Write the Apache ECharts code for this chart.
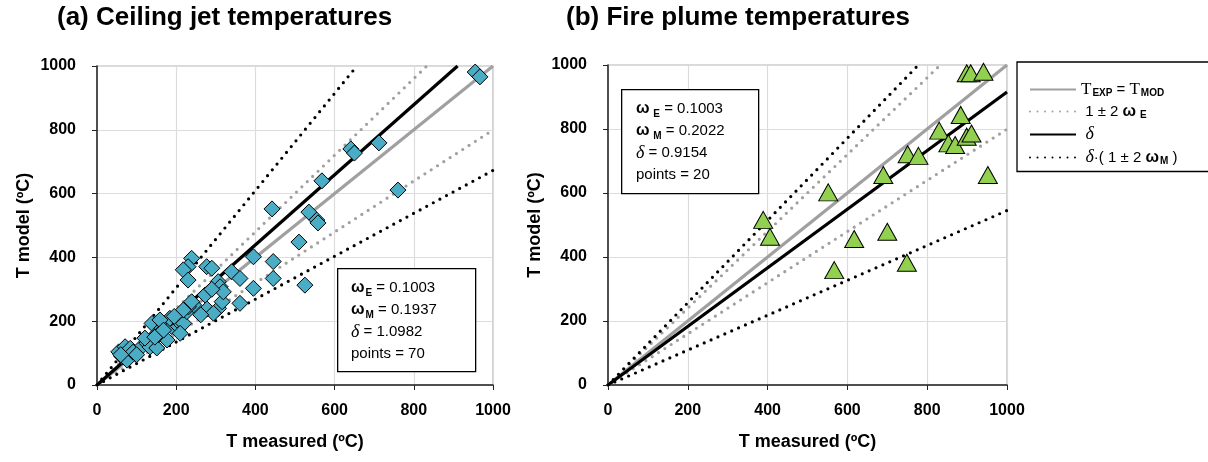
<!DOCTYPE html>
<html>
<head>
<meta charset="utf-8">
<script src="https://cdn.jsdelivr.net/npm/echarts@6/dist/echarts.min.js"></script>
<style>
  html, body { margin: 0; background: #fff; }
  #chart { width: 1208px; height: 462px; }
</style>
</head>
<body>
<div id="chart"></div>
<script>
// (a) ceiling jet: measured vs model
const ceilMeasured = [55, 71, 63, 76, 84, 109, 126, 139, 152, 164, 181, 177, 189, 206, 202, 219, 227, 210, 244, 273, 278, 307, 316,
  239, 230, 218, 230, 277, 290, 306, 311, 319, 340, 361, 395, 445, 445, 395, 361, 294, 231, 239, 218, 184, 159,
  955, 967, 712, 641, 650, 568, 760, 442, 535, 555, 558, 510, 525,
  134, 151, 91, 121, 154, 100, 146, 168, 195, 262, 290, 60];
const ceilModel = [104, 120, 89, 78, 115, 115, 131, 193, 162, 178, 198, 141, 183, 183, 204, 193, 230, 162, 251, 282, 238, 240, 261,
  397, 371, 361, 329, 371, 366, 324, 308, 292, 355, 334, 402, 387, 334, 303, 256, 225, 245, 261, 235, 209, 204,
  981, 966, 759, 740, 727, 640, 611, 552, 542, 517, 508, 448, 313,
  119, 116, 103, 147, 157, 95, 150, 172, 215, 220, 300, 95];

// (b) fire plume
const plumeMeasured = [899, 909, 941, 884, 830, 853, 870, 899, 911, 751, 778, 952, 690, 552, 389, 406, 617, 700, 567, 749];
const plumeModel = [974, 974, 979, 844, 795, 755, 750, 776, 786, 721, 716, 656, 656, 602, 516, 463, 456, 479, 359, 382];

// statistics shown in the boxes
const ceilStats = { wE: 0.1003, wM: 0.1937, delta: 1.0982, n: 70 };
const plumeStats = { wE: 0.1003, wM: 0.2022, delta: 0.9154, n: 20 };

const axisTicks = [0, 200, 400, 600, 800, 1000];

const FONT = "'Liberation Sans', Arial, sans-serif";
const GRAY = '#a0a0a0';

function zip(a, b) { return a.map((v, i) => [v, b[i]]); }

// straight line y = slope * x through the origin, cut at the 1000 frame
function ray(slope) {
  return [[0, 0], [Math.min(1000, 1000 / slope), Math.min(1000, 1000 * slope)]];
}

function lineSeries(name, idx, slope, color, dotted) {
  return {
    name: name, type: 'line', xAxisIndex: idx, yAxisIndex: idx,
    data: ray(slope), symbol: 'none', showSymbol: false, silent: true, z: 2,
    lineStyle: dotted
      ? { color: color, width: 3.2, type: [0, 7.5], cap: 'round' }
      : { color: color, width: 3.2 }
  };
}

function modelLines(idx, st) {
  return [
    lineSeries('ident', idx, 1, GRAY, false),
    lineSeries('bandE', idx, 1 + 2 * st.wE, GRAY, true),
    lineSeries('bandE', idx, 1 - 2 * st.wE, GRAY, true),
    lineSeries('delta', idx, st.delta, '#000', false),
    lineSeries('bandM', idx, st.delta * (1 + 2 * st.wM), '#000', true),
    lineSeries('bandM', idx, st.delta * (1 - 2 * st.wM), '#000', true)
  ];
}

const tickFmt = v => axisTicks.includes(v) ? String(v) : '';

function xAxisFor(idx) {
  return {
    type: 'value', gridIndex: idx, min: 0, max: 1000, interval: 200,
    name: 'T measured (ºC)', nameLocation: 'middle', nameGap: 48,
    nameTextStyle: { fontFamily: FONT, fontWeight: 'bold', fontSize: 18, color: '#000' },
    axisLine: { lineStyle: { color: '#222', width: 1.5 } },
    axisTick: { show: true, inside: false, length: 5, lineStyle: { color: '#222' } },
    axisLabel: { margin: 18, fontFamily: FONT, fontWeight: 'bold', fontSize: 16, color: '#000', formatter: tickFmt },
    splitLine: { lineStyle: { color: '#dcdcdc', width: 1.2 } }
  };
}

function yAxisFor(idx) {
  return {
    type: 'value', gridIndex: idx, min: 0, max: 1000, interval: 200,
    name: 'T model (ºC)', nameLocation: 'middle', nameGap: 64,
    nameTextStyle: { fontFamily: FONT, fontWeight: 'bold', fontSize: 18, color: '#000' },
    axisLine: { show: true, lineStyle: { color: '#222', width: 1.5 } },
    axisTick: { show: true, inside: false, length: 5, lineStyle: { color: '#222' } },
    axisLabel: { margin: 21, fontFamily: FONT, fontWeight: 'bold', fontSize: 16, color: '#000', formatter: tickFmt },
    splitLine: { lineStyle: { color: '#dcdcdc', width: 1.2 } }
  };
}

const statRich = {
  n: { fontFamily: FONT, fontSize: 15, color: '#000', lineHeight: 22 },
  w: { fontFamily: FONT, fontSize: 16, fontWeight: 'bold', color: '#000', lineHeight: 22 },
  s: { fontFamily: FONT, fontSize: 10, fontWeight: 'bold', color: '#000', padding: [10, 0, 0, 1] },
  d: { fontFamily: "'Liberation Serif', serif", fontStyle: 'italic', fontSize: 18, color: '#000', lineHeight: 22 }
};

function statText(st, gap) {
  return '{w|ω}{s|' + gap + 'E}{n| = ' + st.wE.toFixed(4) + '}\n' +
         '{w|ω}{s|' + gap + 'M}{n| = ' + st.wM.toFixed(4) + '}\n' +
         '{d|δ}{n| = ' + st.delta.toFixed(4) + '}\n' +
         '{n|points = ' + st.n + '}';
}

const legendText = {
  ident: '{t|T}{s|EXP}{n| = }{t|T}{s|MOD}',
  bandE: '{n| 1 ± 2 }{w|ω}{s| E}',
  delta: '{d| δ}',
  bandM: '{d| δ}{n|·( 1 ± 2 }{w|ω}{s|M}{n| )}'
};

const chart = echarts.init(document.getElementById('chart'));
chart.setOption({
  animation: false,
  backgroundColor: '#fff',
  title: [
    { text: '(a) Ceiling jet temperatures', left: 52, top: 0,
      textStyle: { fontFamily: FONT, fontWeight: 'bold', fontSize: 26, color: '#000' } },
    { text: '(b) Fire plume temperatures', left: 561, top: 0,
      textStyle: { fontFamily: FONT, fontWeight: 'bold', fontSize: 26, color: '#000' } }
  ],
  grid: [
    { left: 97, top: 66, width: 396, height: 319, show: true, borderColor: '#b4b4b4', borderWidth: 1.2, backgroundColor: '#fff' },
    { left: 608, top: 65, width: 399, height: 320, show: true, borderColor: '#b4b4b4', borderWidth: 1.2, backgroundColor: '#fff' }
  ],
  xAxis: [xAxisFor(0), xAxisFor(1)],
  yAxis: [yAxisFor(0), yAxisFor(1)],
  legend: {
    data: ['ident', 'bandE', 'delta', 'bandM'],
    orient: 'vertical', left: 1017, top: 62,
    itemWidth: 46, itemHeight: 12, itemGap: 5,
    padding: [19, 60, 5, 12],
    borderColor: '#000', borderWidth: 1.3,
    selectedMode: false,
    itemStyle: { color: 'rgba(0,0,0,0)', borderColor: 'rgba(0,0,0,0)', borderWidth: 0 },
    formatter: name => legendText[name],
    textStyle: {
      rich: {
        n: { fontFamily: FONT, fontSize: 15, color: '#000' },
        t: { fontFamily: "'Liberation Serif', serif", fontSize: 17, color: '#000' },
        w: { fontFamily: FONT, fontSize: 16, fontWeight: 'bold', color: '#000' },
        s: { fontFamily: FONT, fontSize: 10, fontWeight: 'bold', color: '#000', padding: [8, 0, 0, 1] },
        d: { fontFamily: "'Liberation Serif', serif", fontStyle: 'italic', fontSize: 18, color: '#000' }
      }
    }
  },
  graphic: [
    { type: 'rect', left: 337, top: 268, z: 100,
      shape: { width: 138, height: 103 }, style: { fill: '#fff', stroke: '#000', lineWidth: 1.3 } },
    { type: 'text', left: 351, top: 280, z: 101,
      style: { text: statText(ceilStats, ''), rich: statRich } },
    { type: 'rect', left: 621, top: 89, z: 100,
      shape: { width: 137, height: 104 }, style: { fill: '#fff', stroke: '#000', lineWidth: 1.3 } },
    { type: 'text', left: 636, top: 101, z: 101,
      style: { text: statText(plumeStats, ' '), rich: statRich } }
  ],
  series: [
    ...modelLines(0, ceilStats),
    {
      type: 'scatter', xAxisIndex: 0, yAxisIndex: 0, z: 5,
      data: zip(ceilMeasured, ceilModel),
      symbol: 'diamond', symbolSize: 16,
      itemStyle: { color: '#4bacc6', borderColor: '#000', borderWidth: 1, opacity: 1 }
    },
    ...modelLines(1, plumeStats),
    {
      type: 'scatter', xAxisIndex: 1, yAxisIndex: 1, z: 5,
      data: zip(plumeMeasured, plumeModel),
      symbol: 'triangle', symbolSize: [19, 17],
      itemStyle: { color: '#92d050', borderColor: '#000', borderWidth: 1, opacity: 1 }
    }
  ]
});
</script>
</body>
</html>
